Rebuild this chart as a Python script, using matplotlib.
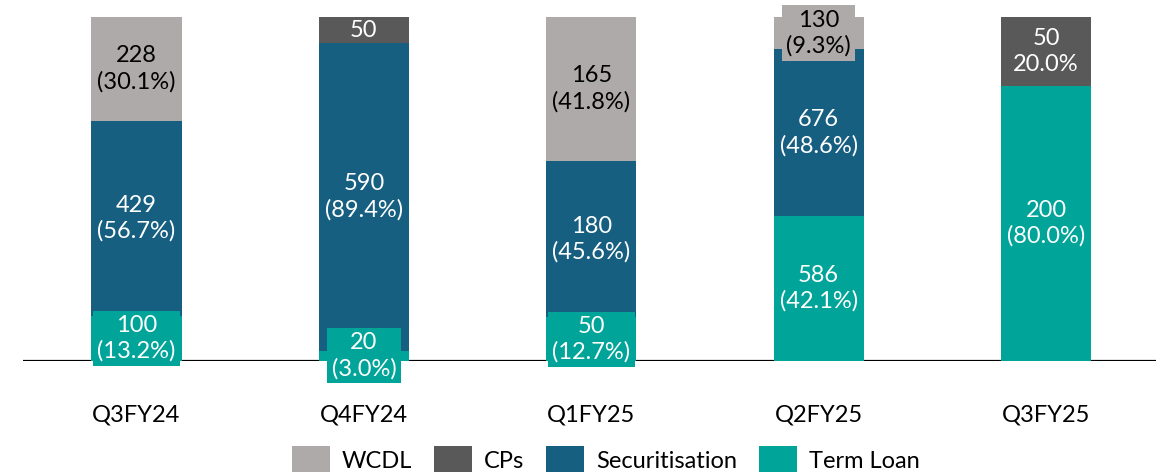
import numpy as np
import matplotlib
matplotlib.use("Agg")
import matplotlib.pyplot as plt

# data (Rs crore), bottom -> top of each bar
quarters = ["Q3FY24", "Q4FY24", "Q1FY25", "Q2FY25", "Q3FY25"]
term_loan = [100, 20, 50, 586, 200]
securitisation = [429, 590, 180, 676, 0]
cps = [0, 50, 0, 0, 50]
wcdl = [228, 0, 165, 130, 0]

term_loan_labels = ["100\n(13.2%)", "20\n(3.0%)", "50\n(12.7%)", "586\n(42.1%)", "200\n(80.0%)"]
securitisation_labels = ["429\n(56.7%)", "590\n(89.4%)", "180\n(45.6%)", "676\n(48.6%)", ""]
cps_labels = ["", "50", "", "", "50\n20.0%"]
wcdl_labels = ["228\n(30.1%)", "", "165\n(41.8%)", "130\n(9.3%)", ""]

plt.rcParams["font.family"] = ["Lato", "DejaVu Sans"]

series = [
    ("Term Loan", term_loan, term_loan_labels, "#00A499", "white"),
    ("Securitisation", securitisation, securitisation_labels, "#175F80", "white"),
    ("CPs", cps, cps_labels, "#595959", "white"),
    ("WCDL", wcdl, wcdl_labels, "#AEAAA9", "black"),
]

totals = np.array(term_loan) + np.array(securitisation) + np.array(cps) + np.array(wcdl)

fig = plt.figure(figsize=(11.56, 4.72), dpi=100)
ax = fig.add_axes([23 / 1156, 111 / 472, 1133 / 1156, 344 / 472])

x = np.arange(len(quarters))
bottom = np.zeros(len(quarters))
handles = {}
for name, vals, labels, color, tcolor in series:
    share = np.array(vals) / totals * 100
    bars = ax.bar(x, share, width=0.396, bottom=bottom, color=color, zorder=2)
    handles[name] = bars
    for i, lab in enumerate(labels):
        if lab == "":
            continue
        pad = 0.18 if "\n" in lab else 0.05
        ax.text(x[i], bottom[i] + share[i] / 2, lab, ha="center", va="center",
                fontsize=17, color=tcolor, linespacing=1.25, zorder=4, clip_on=False,
                bbox=dict(boxstyle=f"square,pad={pad}", fc=color, ec="none"))
    bottom += share

ax.axhline(0, color="black", lw=1.6, zorder=1)
ax.set_xlim(-0.499, 4.483)
ax.set_ylim(0, 100)
for s in ax.spines.values():
    s.set_visible(False)
ax.set_yticks([])
ax.set_xticks(x)
ax.set_xticklabels(quarters, fontsize=17)
ax.tick_params(axis="x", length=0, pad=31)

order = ["WCDL", "CPs", "Securitisation", "Term Loan"]
fig.legend([handles[n] for n in order], order, loc="center", ncol=4,
           bbox_to_anchor=(0.524, 0.026), frameon=False, fontsize=17,
           handlelength=1.6, handleheight=1.35, handletextpad=0.5,
           columnspacing=0.95)

fig.savefig("out.png", dpi=100)
